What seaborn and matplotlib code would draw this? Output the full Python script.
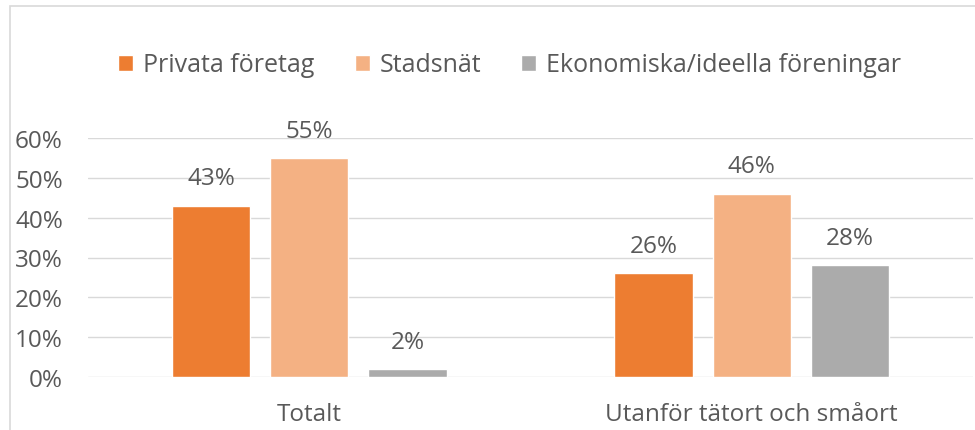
import numpy as np
import pandas as pd
import matplotlib.pyplot as plt
import seaborn as sns
from matplotlib.patches import Rectangle

# data
categories = ["Totalt", "Utanför tätort och småort"]
series = ["Privata företag", "Stadsnät", "Ekonomiska/ideella föreningar"]
privata = [0.43, 0.26]
stadsnat = [0.55, 0.46]
foreningar = [0.02, 0.28]
colors = ["#ED7D31", "#F4B183", "#ABABAB"]
yticks = [0, 0.1, 0.2, 0.3, 0.4, 0.5, 0.6]

rows = []
for name, vals in zip(series, [privata, stadsnat, foreningar]):
    for cat, v in zip(categories, vals):
        rows.append({"kategori": cat, "serie": name, "andel": v})
df = pd.DataFrame(rows)

sns.set_theme(style="white")
plt.rcParams["font.family"] = ["Open Sans", "DejaVu Sans"]
txt = "#595959"
fs = 17.5

fig = plt.figure(figsize=(9.75, 4.31), dpi=100)
ax = fig.add_axes([88/975, 1 - 378/431, (973 - 88)/975, (378 - 139)/431])

sns.barplot(data=df, x="kategori", y="andel", hue="serie", order=categories,
            hue_order=series, palette=colors, width=0.665, gap=0.2,
            saturation=1, ax=ax, errorbar=None)

ax.set_ylim(0, 0.6)
ax.set_xlim(-0.5, 1.5)
ax.set_yticks(yticks)
ax.set_yticklabels(["%d%%" % round(t*100) for t in yticks])
ax.yaxis.grid(True, color="#D9D9D9", lw=1)
ax.set_axisbelow(True)
for s in ax.spines.values():
    s.set_visible(False)
ax.tick_params(axis="y", length=0, pad=18, labelsize=fs, labelcolor=txt)
ax.tick_params(axis="x", length=0, pad=18, labelsize=fs, labelcolor=txt)
ax.set_xlabel("")
ax.set_ylabel("")

for cont in ax.containers:
    ax.bar_label(cont, labels=["%d%%" % round(v*100) for v in cont.datavalues],
                 padding=11, fontsize=fs, color=txt)

sns.move_legend(ax, "center", bbox_to_anchor=(0.523, 1 - 66/431),
                bbox_transform=fig.transFigure, ncol=3, frameon=False,
                title=None, fontsize=18, labelcolor=txt, handlelength=0.6,
                handleheight=0.6, handletextpad=0.4, columnspacing=1.6)

# light outer frame of the chart area
fig.patches.append(Rectangle((10/975, -0.1), 1.2, 1.1 - 7/431,
                             transform=fig.transFigure, fill=False,
                             edgecolor="#D9D9D9", lw=1.2))

fig.savefig("out.png", dpi=100)
